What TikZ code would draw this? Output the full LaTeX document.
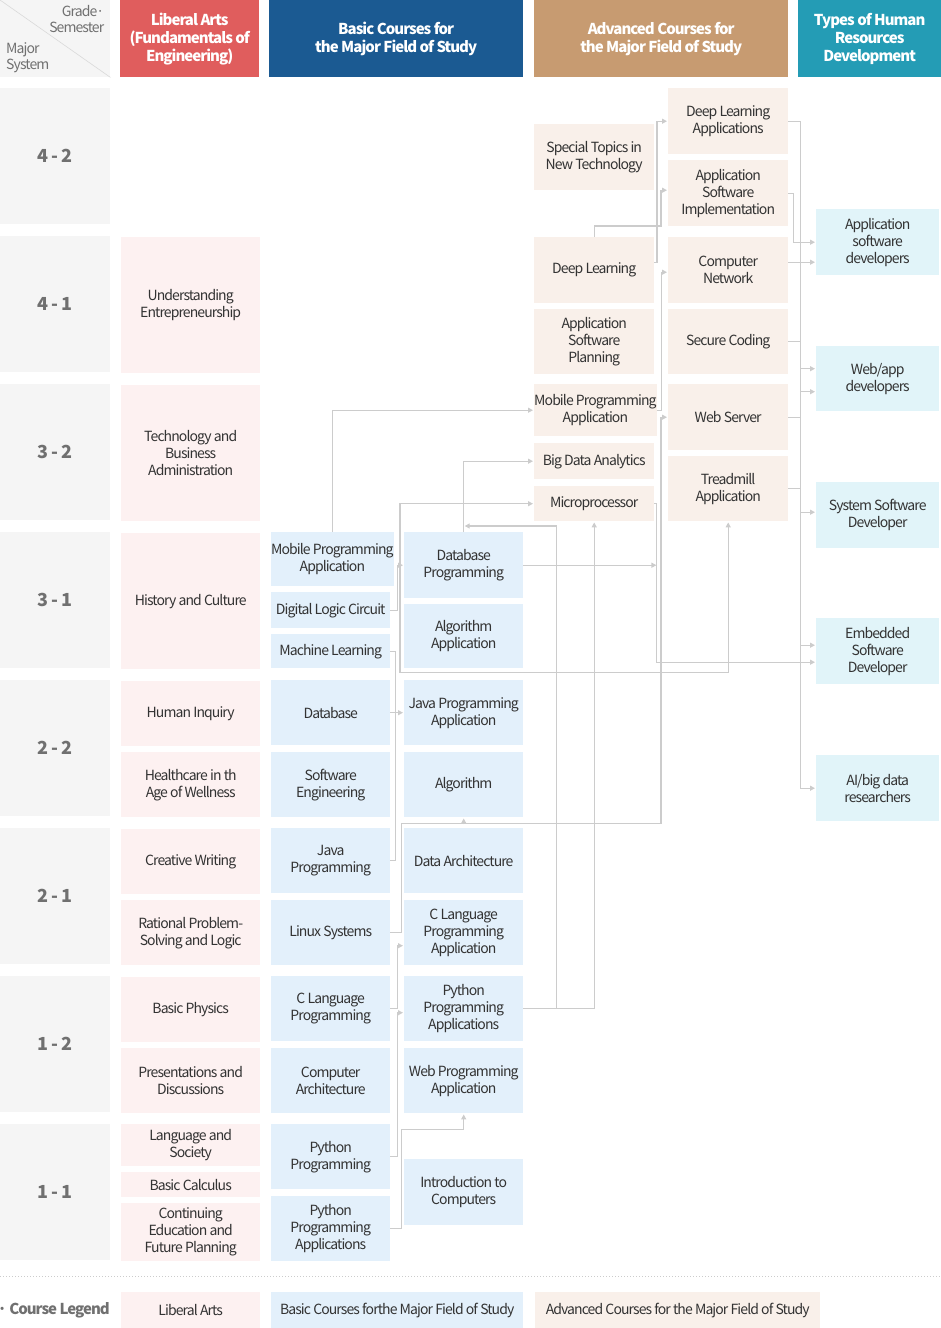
\documentclass[tikz,border=0pt]{standalone}
\usepackage{fontspec}
\setmainfont{Noto Sans CJK KR}[LetterSpace=-6.5]
\usetikzlibrary{arrows.meta, calc}
\definecolor{redh}{HTML}{E05D5D}
\definecolor{blueh}{HTML}{1B5A92}
\definecolor{tanh}{HTML}{C79B71}
\definecolor{tealh}{HTML}{249CB5}
\definecolor{libc}{HTML}{FDF1F1}
\definecolor{basc}{HTML}{E3F0FB}
\definecolor{advc}{HTML}{F9F0EA}
\definecolor{hrc}{HTML}{E1F4F9}
\definecolor{grayc}{HTML}{F5F5F5}
\definecolor{linec}{HTML}{CCCCCC}
\definecolor{txt}{HTML}{333333}
\definecolor{gtxt}{HTML}{707070}

\begin{document}
\begin{tikzpicture}[x=1pt, y=-1pt,
    box/.style={anchor=north west, inner sep=0pt, align=center, text=txt, font=\fontsize{14}{17}\selectfont},
    lib/.style={box, fill=libc, minimum width=139pt},
    bas/.style={box, fill=basc, minimum width=119pt},
    adv/.style={box, fill=advc, minimum width=120pt},
    hr/.style={box, fill=hrc, minimum width=123pt},
    full/.style={minimum height=136pt},
    half/.style={minimum height=65pt},
    head/.style={anchor=north west, inner sep=0pt, align=center, text=white, minimum height=77pt, font=\fontsize{15}{18}\selectfont\bfseries},
    grade/.style={anchor=north west, inner sep=0pt, fill=grayc, minimum width=110pt, minimum height=136pt, text=gtxt, font=\fontsize{18}{20}\selectfont\bfseries},
    line/.style={draw=linec, line width=1.3pt},
    link/.style={line, -{Triangle[length=5pt,width=5pt]}, shorten >=1pt},
    both/.style={{Triangle[length=5pt,width=5pt]}-{Triangle[length=5pt,width=5pt]}, shorten <=1pt}]
\useasboundingbox (0,0) rectangle (941,1328);

\node[anchor=north west, inner sep=0pt, fill=grayc, minimum width=110pt, minimum height=77pt] (corner) at (0,0) {};
\draw[gray!30, line width=0.6pt] (corner.north west) -- (corner.south east);
\node[anchor=north east, align=right, inner sep=0pt, text=gtxt, font=\fontsize{14}{16}\selectfont] (gs) at ([xshift=-6pt,yshift=-5pt]corner.north east) {Grade·\\Semester};
\node[anchor=south west, align=left, inner sep=0pt, text=gtxt, font=\fontsize{14}{16}\selectfont] (ms) at ([xshift=6pt,yshift=4pt]corner.south west) {Major\\System};
\node[head, fill=redh, minimum width=139pt] (hlib) at (120,0) {Liberal Arts\\(Fundamentals of\\Engineering)};
\node[head, fill=blueh, minimum width=254pt] (hbas) at (269,0) {Basic Courses for\\the Major Field of Study};
\node[head, fill=tanh, minimum width=254pt] (hadv) at (534,0) {Advanced Courses for\\the Major Field of Study};
\node[head, fill=tealh, minimum width=143pt] (hhr) at (798,0) {Types of Human\\Resources\\Development};

\foreach \a/\b [count=\i from 0] in {4/2,4/1,3/2,3/1,2/2,2/1,1/2,1/1}
  \node[grade] (g\a\b) at (0,{88+148*\i}) {\a\,-\,\b};

\node[lib, full] (ue) at (121,237) {Understanding\\Entrepreneurship};
\node[lib, full] (tba) at (121,385) {Technology and\\Business\\Administration};
\node[lib, full] (hc) at (121,533) {History and Culture};
\node[lib, half] (hi) at (121,681) {Human Inquiry};
\node[lib, half] (hw) at (121,752) {Healthcare in th\\Age of Wellness};
\node[lib, half] (cw) at (121,829) {Creative Writing};
\node[lib, half] (rps) at (121,900) {Rational Problem-\\Solving and Logic};
\node[lib, half] (bp) at (121,977) {Basic Physics};
\node[lib, half] (pd) at (121,1048) {Presentations and\\Discussions};
\node[lib, minimum height=42pt] (langsoc) at (121,1124) {Language and\\Society};
\node[lib, minimum height=25pt] (bcalc) at (121,1172) {Basic Calculus};
\node[lib, minimum height=58pt] (cefp) at (121,1203) {Continuing\\Education and\\Future Planning};

\node[bas, minimum height=54pt] (mpa1) at (271,532) {Mobile Programming\\Application};
\node[bas, minimum height=36pt] (dlc) at (271,592) {Digital Logic Circuit};
\node[bas, minimum height=34pt] (ml) at (271,634) {Machine Learning};
\node[bas, half] (db) at (271,680) {Database};
\node[bas, half] (se) at (271,752) {Software\\Engineering};
\node[bas, half] (jp) at (271,828) {Java\\Programming};
\node[bas, half] (lsys) at (271,900) {Linux Systems};
\node[bas, half] (clp) at (271,976) {C Language\\Programming};
\node[bas, half] (ca) at (271,1048) {Computer\\Architecture};
\node[bas, half] (pp) at (271,1124) {Python\\Programming};
\node[bas, half] (ppa1) at (271,1196) {Python\\Programming\\Applications};

\node[bas, minimum height=66pt] (dbp) at (404,532) {Database\\Programming};
\node[bas, minimum height=64pt] (aa) at (404,604) {Algorithm\\Application};
\node[bas, half] (jpa) at (404,680) {Java Programming\\Application};
\node[bas, half] (alg) at (404,752) {Algorithm};
\node[bas, half] (da) at (404,828) {Data Architecture};
\node[bas, half] (clpa) at (404,900) {C Language\\Programming\\Application};
\node[bas, half] (ppa2) at (404,976) {Python\\Programming\\Applications};
\node[bas, half] (wpa) at (404,1048) {Web Programming\\Application};
\node[bas, minimum height=66pt] (ic) at (404,1159) {Introduction to\\Computers};

\node[adv, minimum height=66pt] (stnt) at (534,124) {Special Topics in\\New Technology};
\node[adv, minimum height=66pt] (dl) at (534,237) {Deep Learning};
\node[adv, half] (asp) at (534,309) {Application\\Software\\Planning};
\node[adv, minimum height=52pt] (mpa2) at (534,384) {Mobile Programming\\Application};
\node[adv, minimum height=36pt] (bda) at (534,443) {Big Data Analytics};
\node[adv, minimum height=35pt] (mp) at (534,486) {Microprocessor};

\node[adv, minimum height=66pt] (dla) at (668,88) {Deep Learning\\Applications};
\node[adv, minimum height=66pt] (asi) at (668,160) {Application\\Software\\Implementation};
\node[adv, minimum height=66pt] (cn) at (668,237) {Computer\\Network};
\node[adv, half] (sc) at (668,309) {Secure Coding};
\node[adv, minimum height=66pt] (ws) at (668,384) {Web Server};
\node[adv, half] (tm) at (668,456) {Treadmill\\Application};

\node[hr, minimum height=66pt] (asd) at (816,209) {Application\\software\\developers};
\node[hr, half] (wad) at (816,346) {Web/app\\developers};
\node[hr, minimum height=66pt] (ssd) at (816,482) {System Software\\Developer};
\node[hr, minimum height=66pt] (esd) at (816,618) {Embedded\\Software\\Developer};
\node[hr, minimum height=66pt] (ai) at (816,755) {AI/big data\\researchers};

\draw[link] ([yshift=8pt]dl.east) -- ++(2.5,0) |- (dla.west);
\draw[link] (dl.north) -- ++(0,-11) -| ([xshift=-7pt,yshift=3pt]asi.west) -- ([yshift=3pt]asi.west);
\draw[link] (mpa2.east) -- ++(4.5,0) |- ([yshift=-2pt]cn.west);
\draw[link] (dbp.east) -- ++(134,0);
\draw[link] (lsys.east) -- ++(11,0) -- ++(0,-109) -| ([xshift=-7pt]ws.west) -- (ws.west);
\draw[link] ([yshift=-7pt]alg.south) -- (alg.south);
\draw[link] (mp.east) -- ++(2,0) |- ([yshift=-11pt]esd.west);
\draw[link, both] (mp.west) -- ++(-134,0) -- ++(0,169) -| (tm.south);
\draw[link] (dla.east) -- ++(12,0) |- (ai.west);
\draw[link] (asi.east) -- ++(5,0) |- (asd.west);
\draw[link] ([yshift=8pt]cn.east) -- ([yshift=-20pt]asd.west);
\foreach \n in {sc,ws,tm}
  \draw[line] (\n.east) -- ++(12,0);
\foreach \n/\s in {wad/10,wad/-13,ssd/3,esd/6}
  \draw[link] ([xshift=-16pt,yshift=\s pt]\n.west) -- ([yshift=\s pt]\n.west);
\draw[link] (mpa1.north) |- (mpa2.west);
\draw[link] (dbp.north) |- (bda.west);
\draw[link] (ppa2.east) -| (mp.south);
\draw[link] ([xshift=33pt]ppa2.east) |- ([yshift=6pt]dbp.north);
\draw[link] (dlc.east) -- ++(7,0) |- (dbp.west);
\draw[line] (ml.east) -- ++(5,0) |- (jp.east);
\draw[link] (db.east) -- (jpa.west);
\draw[link] (pp.east) -- ++(7,0) |- ([yshift=-4pt]ppa2.west);
\draw[link] (clp.east) -- ++(7,0) |- ([yshift=-13pt]clpa.west);
\draw[link] (ppa1.east) -- ++(11,0) |- ([yshift=-16pt]wpa.south) -- (wpa.south);

\draw[gray!40, line width=1pt, dotted] (0,1276) -- (941,1276);
\node[anchor=east, inner sep=0pt, text=gtxt, font=\fontsize{15}{17}\selectfont\bfseries] (lgnd) at (110,1310) {· Course Legend};
\node[lib, minimum height=36pt] (lglib) at (121,1292) {Liberal Arts};
\node[bas, minimum width=252pt, minimum height=36pt] (lgbas) at (271,1292) {Basic Courses forthe Major Field of Study};
\node[adv, minimum width=285pt, minimum height=36pt] (lgadv) at (535,1292) {Advanced Courses for the Major Field of Study};
\end{tikzpicture}
\end{document}
